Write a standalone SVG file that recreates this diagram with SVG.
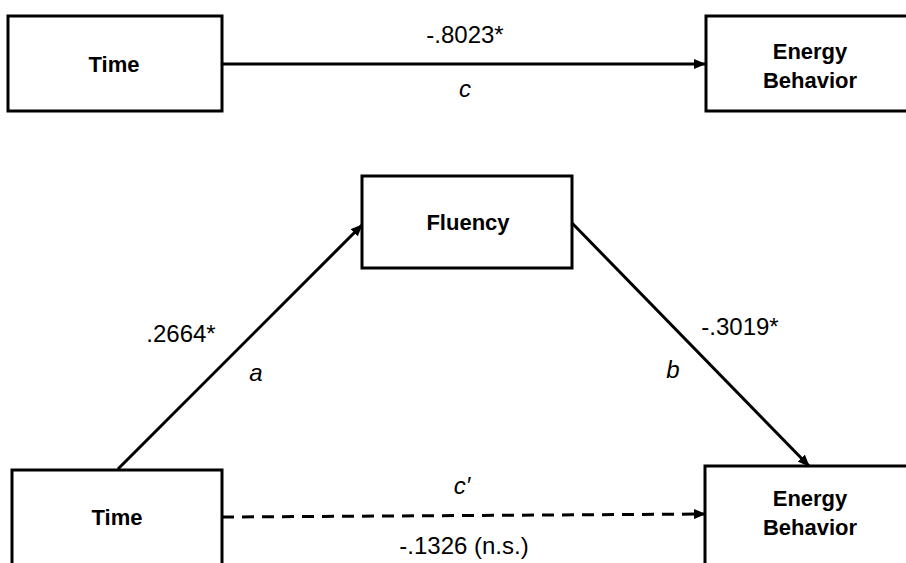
<svg xmlns="http://www.w3.org/2000/svg" width="906" height="563" viewBox="0 0 906 563">
<style>
.box{fill:#fff;stroke:#000;stroke-width:3}
.lbl{font-family:"Liberation Sans",Arial,sans-serif;font-weight:bold;font-size:22px;text-anchor:middle;fill:#000}
.val{font-family:"Liberation Sans",Arial,sans-serif;font-size:24px;text-anchor:middle;fill:#000}
.it{font-style:italic}
.ln{stroke:#000;stroke-width:3;fill:none}
</style>
<defs>
<marker id="ah" markerUnits="userSpaceOnUse" markerWidth="12" markerHeight="10" refX="11" refY="5" orient="auto">
<path d="M0,0 L12,5 L0,10 z" fill="#000"/>
</marker>
</defs>
<rect width="906" height="563" fill="#fff"/>
<g id="connectors">
<line class="ln" x1="222" y1="64" x2="705" y2="64" marker-end="url(#ah)"/>
<line class="ln" x1="118" y1="469" x2="362" y2="225" marker-end="url(#ah)"/>
<line class="ln" x1="572" y1="223" x2="809" y2="466" marker-end="url(#ah)"/>
<line class="ln" x1="222" y1="517" x2="705" y2="514" stroke-dasharray="12 8" marker-end="url(#ah)"/>
<text class="val" x="465" y="43">-.8023*</text>
<text class="val it" x="465" y="97">c</text>
<text class="val" x="181" y="342">.2664*</text>
<text class="val it" x="256" y="381">a</text>
<text class="val" x="740" y="335">-.3019*</text>
<text class="val it" x="673" y="378">b</text>
<text class="val it" x="462" y="494">c′</text>
<text class="val" x="464" y="554">-.1326 (n.s.)</text>
</g>
<g id="time-top">
<rect class="box" x="8" y="16" width="214" height="95"/>
<text class="lbl" x="114" y="72">Time</text>
</g>
<g id="energy-top">
<rect class="box" x="706" y="16" width="210" height="95"/>
<text class="lbl" x="810" y="59">Energy</text>
<text class="lbl" x="810" y="88">Behavior</text>
</g>
<g id="fluency">
<rect class="box" x="362" y="176" width="210" height="92"/>
<text class="lbl" x="468" y="230">Fluency</text>
</g>
<g id="time-bottom">
<rect class="box" x="12" y="470" width="210" height="110"/>
<text class="lbl" x="117" y="525">Time</text>
</g>
<g id="energy-bottom">
<rect class="box" x="705" y="466" width="210" height="110"/>
<text class="lbl" x="810" y="506">Energy</text>
<text class="lbl" x="810" y="535">Behavior</text>
</g>
</svg>
